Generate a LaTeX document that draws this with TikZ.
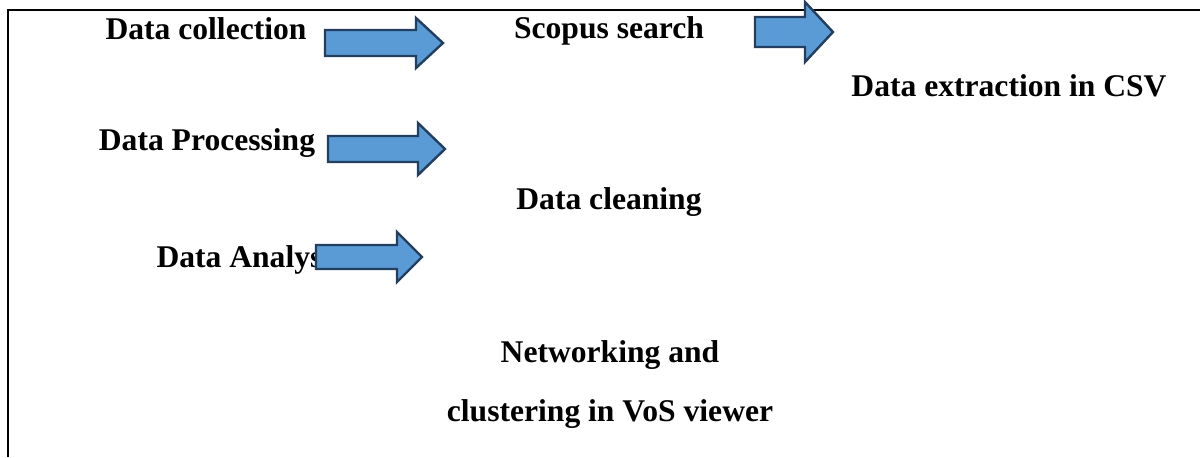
\documentclass[tikz,border=0pt]{standalone}
\usepackage{fontspec}
\setmainfont{Liberation Serif}
\usepackage{xcolor}
\definecolor{arrowfill}{HTML}{5B9BD5}
\definecolor{arrowline}{HTML}{223F5F}
% block arrow: x start, x head base, x tip, y centre, half body, half head
\newcommand{\bluearrow}[6]{%
  \draw[blockarrow] (#1,#4-#5) -- (#2,#4-#5) -- (#2,#4-#6) -- (#3,#4)
    -- (#2,#4+#6) -- (#2,#4+#5) -- (#1,#4+#5) -- cycle;}
\tikzset{
  blockarrow/.style={fill=arrowfill, draw=arrowline, line width=1.2pt, line join=miter},
  steptext/.style={anchor=base, inner sep=0pt, font=\bfseries\fontsize{15.8}{18}\selectfont},
  frameline/.style={line width=1.1pt, black}
}
\begin{document}
\begin{tikzpicture}[x=0.5pt, y=-0.5pt]
    \useasboundingbox (0,0) rectangle (1200,457);
    \draw[frameline] (1200,10) -- (8,10) -- (8,457);

    \node[steptext] (collect) at (206,39) {Data collection};
    \node[steptext] (scopus) at (609,38) {Scopus search};
    \node[steptext] (extract) at (1009,96) {Data extraction in CSV};
    \node[steptext] (process) at (207,150) {Data Processing};
    \node[steptext] (clean) at (609,209) {Data cleaning};
    \node[steptext] (analyse) at (250,267) {Data Analysis};
    \node[steptext] (network) at (610,362) {Networking and};
    \node[steptext] (cluster) at (610,421) {clustering in VoS viewer};

    \bluearrow{325}{416}{443}{43}{13}{25}
    \bluearrow{755}{805}{833}{32}{15}{30}
    \bluearrow{328}{418}{445}{149}{13}{26}
    \bluearrow{316}{397}{422}{257}{12}{25}
\end{tikzpicture}
\end{document}
